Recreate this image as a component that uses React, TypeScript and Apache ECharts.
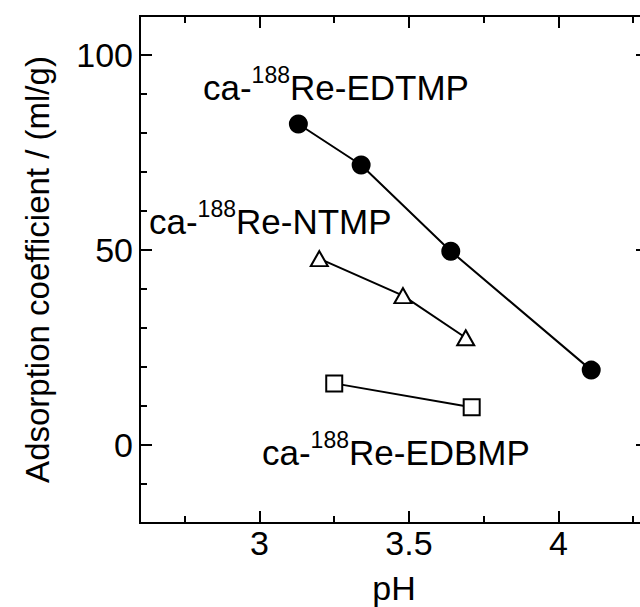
import React, { useEffect, useRef } from "react";
import * as echarts from "echarts";

// pH values and adsorption coefficients (ml/g)
const phEDTMP = [3.13, 3.34, 3.64, 4.11];
const kdEDTMP = [82.3, 71.8, 49.7, 19.2];
const phNTMP = [3.2, 3.48, 3.69];
const kdNTMP = [47.8, 38.3, 27.5];
const phEDBMP = [3.25, 3.71];
const kdEDBMP = [15.8, 9.7];

const xMajor = [3, 3.5, 4];
const xMinor = [2.75, 3.25, 3.75, 4.25];
const yMajor = [0, 50, 100];
const yMinor = [-10, 10, 20, 30, 40, 60, 70, 80, 90];

const labelEDTMP = ["ca-", "188", "Re-EDTMP"];
const labelNTMP = ["ca-", "188", "Re-NTMP"];
const labelEDBMP = ["ca-", "188", "Re-EDBMP"];

const FONT = "'Liberation Sans', Arial, Helvetica, sans-serif";

function pairs(xs: number[], ys: number[]) {
  return xs.map((x, i) => [x, ys[i]]);
}

export default function App() {
  const ref = useRef<HTMLDivElement>(null);
  useEffect(() => {
    if (!ref.current) return;
    const chart = echarts.init(ref.current, undefined, { renderer: "svg" });
    const line = { color: "#000", width: 2 };
    const baseX = {
      type: "value" as const,
      min: 2.6,
      max: 4.3,
      splitLine: { show: false },
    };
    const baseY = {
      type: "value" as const,
      min: -20,
      max: 110,
      splitLine: { show: false },
    };
    const mkX = (position: string, ticks: number[], len: number, labels: boolean) => ({
      ...baseX,
      position,
      axisLine: { show: true, onZero: false, lineStyle: line },
      axisTick: { show: true, inside: true, length: len, customValues: ticks, lineStyle: line },
      axisLabel: labels
        ? { show: true, customValues: ticks, fontSize: 34, color: "#000", fontFamily: FONT, margin: 3 }
        : { show: false },
    });
    const mkY = (position: string, ticks: number[], len: number, labels: boolean) => ({
      ...baseY,
      position,
      axisLine: { show: true, onZero: false, lineStyle: line },
      axisTick: { show: true, inside: true, length: len, customValues: ticks, lineStyle: line },
      axisLabel: labels
        ? { show: true, customValues: ticks, fontSize: 34, color: "#000", fontFamily: FONT, margin: 7 }
        : { show: false },
    });
    const xAxes: any[] = [
      {
        ...mkX("bottom", xMajor, 12, true),
        name: "pH",
        nameLocation: "middle",
        nameGap: 48,
        nameTextStyle: { fontSize: 34, color: "#000", fontFamily: FONT },
      },
      mkX("bottom", xMinor, 7, false),
      mkX("top", xMajor, 12, false),
      mkX("top", xMinor, 7, false),
    ];
    const yAxes: any[] = [
      {
        ...mkY("left", yMajor, 12, true),
        name: "Adsorption coefficient / (ml/g)",
        nameLocation: "middle",
        nameGap: 86,
        nameTextStyle: { fontSize: 33, color: "#000", fontFamily: FONT },
      },
      mkY("left", yMinor, 7, false),
      mkY("right", yMajor, 12, false),
      mkY("right", yMinor, 7, false),
    ];
    const rich = {
      n: { fontSize: 35, fontFamily: FONT, color: "#000", lineHeight: 48 },
      s: { fontSize: 23, fontFamily: FONT, color: "#000", lineHeight: 23, verticalAlign: "top" },
    };
    const richText = (parts: string[]) => `{n|${parts[0]}}{s|${parts[1]}}{n|${parts[2]}}`;
    const ann = (parts: string[], x: number, y: number) => ({
      type: "text",
      x,
      y,
      style: { text: richText(parts), rich, align: "left", verticalAlign: "top", fill: "#000" },
      z: 100,
    });
    chart.setOption({
      animation: false,
      backgroundColor: "#fff",
      grid: { left: 140, top: 16, width: 508, height: 507, containLabel: false, outerBoundsMode: "none" },
      xAxis: xAxes,
      yAxis: yAxes,
      series: [
        {
          type: "line",
          xAxisIndex: 0,
          yAxisIndex: 0,
          data: pairs(phEDTMP, kdEDTMP),
          symbol: "circle",
          symbolSize: 19,
          itemStyle: { color: "#000", borderWidth: 0 },
          lineStyle: { color: "#000", width: 2 },
        },
        {
          type: "line",
          xAxisIndex: 0,
          yAxisIndex: 0,
          data: pairs(phNTMP, kdNTMP),
          symbol: "triangle",
          symbolSize: [17, 15],
          itemStyle: { color: "#fff", borderColor: "#000", borderWidth: 2 },
          lineStyle: { color: "#000", width: 2 },
        },
        {
          type: "line",
          xAxisIndex: 0,
          yAxisIndex: 0,
          data: pairs(phEDBMP, kdEDBMP),
          symbol: "rect",
          symbolSize: 16,
          itemStyle: { color: "#fff", borderColor: "#000", borderWidth: 2 },
          lineStyle: { color: "#000", width: 2 },
        },
      ],
      graphic: [
        ann(labelEDTMP, 203, 63),
        ann(labelNTMP, 149, 197),
        ann(labelEDBMP, 262, 428),
      ],
    });
    return () => chart.dispose();
  }, []);
  return (
    <div
      ref={ref}
      style={{ position: "fixed", left: 0, top: 0, width: 640, height: 607, background: "#fff" }}
    />
  );
}
